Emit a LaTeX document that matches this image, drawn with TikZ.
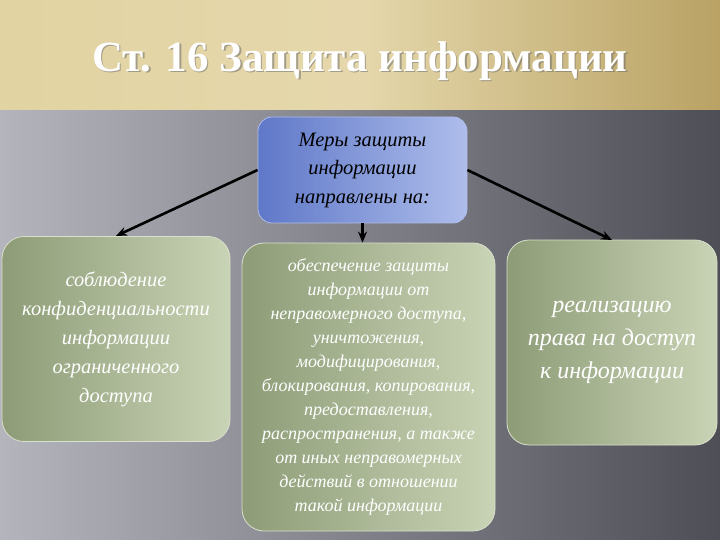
\documentclass[tikz,border=0pt]{standalone}
\usepackage{fontspec}
\setmainfont{Liberation Serif}
\usetikzlibrary{arrows.meta}
\definecolor{tanL}{HTML}{E2D3A2}
\definecolor{tanD}{HTML}{B9A264}
\definecolor{grayL}{HTML}{B4B4BC}
\definecolor{grayD}{HTML}{4E4E57}
\definecolor{grnD}{HTML}{8D9C77}
\definecolor{grnL}{HTML}{C9D3B5}
\definecolor{bluD}{HTML}{5F78C8}
\definecolor{bluL}{HTML}{AEBDEB}
\tikzset{
  greenbox/.style={draw=grnL!70!white, line width=0.8pt, rounded corners=22pt, left color=grnD, right color=grnL,
    text=white, align=center, font=\itshape, inner sep=0pt},
  arr/.style={-{Stealth[length=11pt,width=9pt]}, line width=2.6pt, black}
}
\begin{document}
\begin{tikzpicture}[x=1pt,y=-1pt]
\useasboundingbox (0,0) rectangle (720,540);
% backgrounds
\shade[left color=grayL, right color=grayD] (0,110) rectangle (720,540);
\shade[left color=tanL, right color=tanD, middle color=tanL!90!white] (0,0) rectangle (720,110);
\node[font=\bfseries\fontsize{43}{48}\selectfont, text=black!60, opacity=0.5] at (361.5,62.5) {Ст. 16 Защита информации};
\node[font=\bfseries\fontsize{43}{48}\selectfont, text=white] (title) at (360,61) {Ст. 16 Защита информации};
% top box
\node[draw=bluL, line width=0.8pt, rounded corners=14pt, left color=bluD, right color=bluL,
  minimum width=209pt, minimum height=106pt, align=center, font=\itshape\fontsize{20.5}{28.5}\selectfont, text=black]
  (top) at (362.5,170) {Меры защиты\\информации\\направлены на:};
% boxes
\node[greenbox, minimum width=228pt, minimum height=205pt, font=\itshape\fontsize{20.5}{29}\selectfont]
  (left) at (116,339) {соблюдение\\конфиденциальности\\информации\\ограниченного\\доступа};
\node[greenbox, minimum width=253pt, minimum height=288pt, font=\itshape\fontsize{18}{24}\selectfont]
  (mid) at (368.5,387) {обеспечение защиты\\информации от\\неправомерного доступа,\\уничтожения,\\модифицирования,\\блокирования, копирования,\\предоставления,\\распространения, а также\\от иных неправомерных\\действий в отношении\\такой информации};
\node[greenbox, minimum width=210pt, minimum height=205pt, font=\itshape\fontsize{24}{33}\selectfont]
  (right) at (612,342.5) {реализацию\\права на доступ\\к информации};
% arrows
\draw[arr] (top.west) -- (116,236);
\draw[arr] (top.east) -- (612,240);
\draw[arr] (top.south) -- (mid.north -| top.south);
\end{tikzpicture}
\end{document}
